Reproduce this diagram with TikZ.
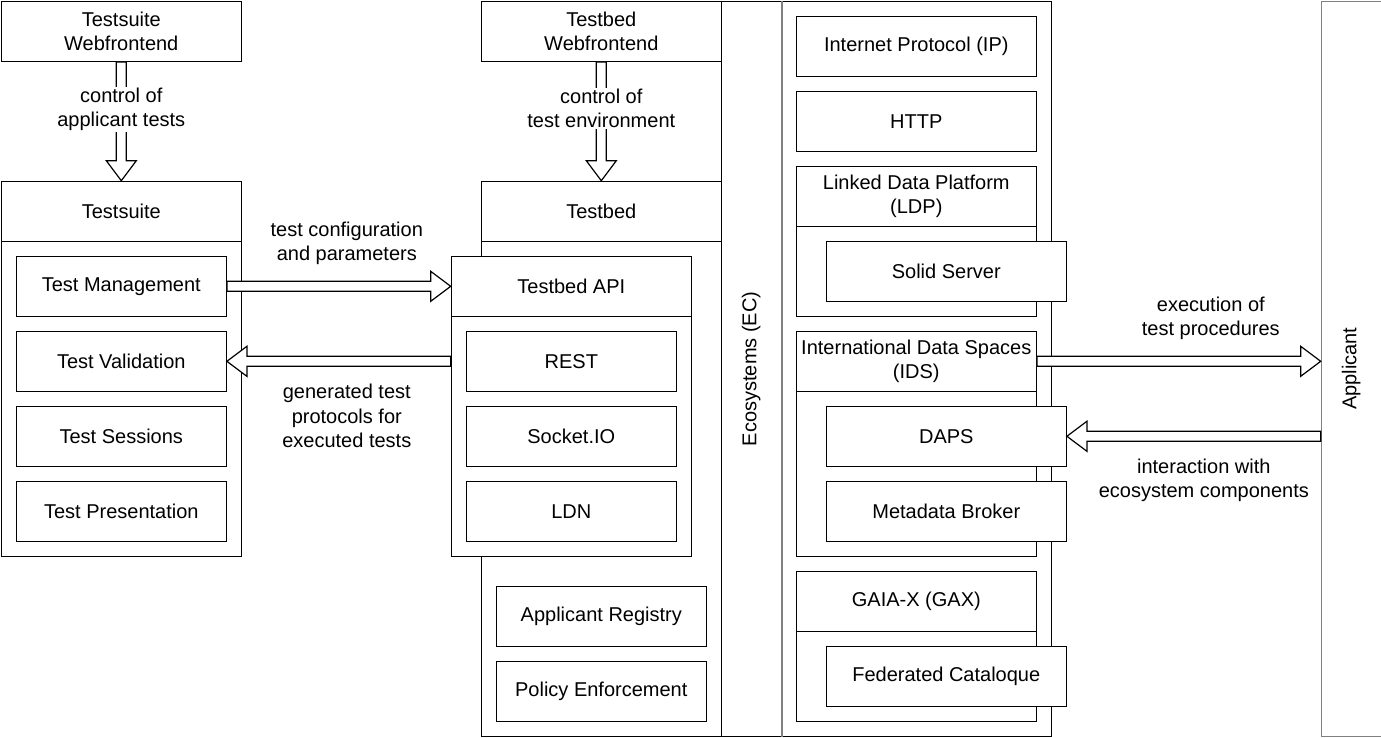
\documentclass[tikz,border=0pt]{standalone}
\usepackage{fontspec}
\setmainfont{Liberation Sans}
\usetikzlibrary{calc}
\newcommand\fsz{\fontsize{20}{24.5}\selectfont}
\tikzset{
  box/.style={draw=black, fill=white, line width=1.2pt, anchor=north west,
    inner sep=0pt, align=center, font=\fsz},
  graybox/.style={box, draw=black!50},
  lbl/.style={inner sep=1pt, align=center, font=\fsz},
  harrowline/.style={draw=black, fill=white, line width=1.2pt, line join=miter},
}
\newcommand\harrow[2]{%
  \coordinate (hA) at (#1); \coordinate (hB) at (#2);
  \coordinate (hC) at ($(hB)!20pt!(hA)$);
  \draw[harrowline] ($(hA)!5pt!90:(hB)$) -- ($(hC)!5pt!90:(hB)$) -- ($(hC)!15pt!90:(hB)$)
    -- (hB) -- ($(hC)!15pt!-90:(hB)$) -- ($(hC)!5pt!-90:(hB)$) -- ($(hA)!5pt!-90:(hB)$) -- cycle;
}
\begin{document}
\begin{tikzpicture}[x=1pt,y=-1pt]
\useasboundingbox (-0.7,-0.7) rectangle (1380.3,736.3);
% Testsuite side
\node[box, minimum width=240pt, minimum height=60pt] (tswf) at (0,0) {Testsuite\\Webfrontend};
\node[box, minimum width=240pt, minimum height=375pt] (tscont) at (0,180) {};
\node[box, minimum width=240pt, minimum height=60pt] (ts) at (0,180) {Testsuite};
\node[box, minimum width=210pt, minimum height=60pt] (tm) at (15,255) {Test Management};
\node[box, minimum width=210pt, minimum height=60pt] (tv) at (15,330) {Test Validation};
\node[box, minimum width=210pt, minimum height=60pt] (tss) at (15,405) {Test Sessions};
\node[box, minimum width=210pt, minimum height=60pt] (tp) at (15,480) {Test Presentation};
% Ecosystems
\node[box, minimum width=330pt, minimum height=735pt] (ec) at (720,0) {};
\node[box, minimum width=60pt, minimum height=735pt] (ectitle) at (720,0) {};
\draw[draw=black!50, line width=1.2pt] (ectitle.north east) -- (ectitle.south east);
\node[lbl, rotate=90] at (ectitle.center) {Ecosystems (EC)};
% Testbed side
\node[box, minimum width=240pt, minimum height=60pt] (tbwf) at (480,0) {Testbed\\Webfrontend};
\node[box, minimum width=240pt, minimum height=555pt] (tbcont) at (480,180) {};
\node[box, minimum width=240pt, minimum height=60pt] (tb) at (480,180) {Testbed};
\node[box, minimum width=240pt, minimum height=300pt] (apicont) at (450,255) {};
\node[box, minimum width=240pt, minimum height=60pt] (api) at (450,255) {Testbed API};
\node[box, minimum width=210pt, minimum height=60pt] (rest) at (465,330) {REST};
\node[box, minimum width=210pt, minimum height=60pt] (sio) at (465,405) {Socket.IO};
\node[box, minimum width=210pt, minimum height=60pt] (ldn) at (465,480) {LDN};
\node[box, minimum width=210pt, minimum height=60pt] (ar) at (495,585) {Applicant Registry};
\node[box, minimum width=210pt, minimum height=60pt] (pe) at (495,660) {Policy Enforcement};
% Ecosystem components
\node[box, minimum width=240pt, minimum height=60pt] (ip) at (795,15) {Internet Protocol (IP)};
\node[box, minimum width=240pt, minimum height=60pt] (http) at (795,90) {HTTP};
\node[box, minimum width=240pt, minimum height=150pt] (ldpcont) at (795,165) {};
\node[box, minimum width=240pt, minimum height=60pt] (ldp) at (795,165) {Linked Data Platform\\(LDP)};
\node[box, minimum width=240pt, minimum height=60pt] (solid) at (825,240) {Solid Server};
\node[box, minimum width=240pt, minimum height=225pt] (idscont) at (795,330) {};
\node[box, minimum width=240pt, minimum height=60pt] (ids) at (795,330) {International Data Spaces\\(IDS)};
\node[box, minimum width=240pt, minimum height=60pt] (daps) at (825,405) {DAPS};
\node[box, minimum width=240pt, minimum height=60pt] (mb) at (825,480) {Metadata Broker};
\node[box, minimum width=240pt, minimum height=150pt] (gaxcont) at (795,570) {};
\node[box, minimum width=240pt, minimum height=60pt] (gax) at (795,570) {GAIA-X (GAX)};
\node[box, minimum width=240pt, minimum height=60pt] (fc) at (825,645) {Federated Cataloque};
% Applicant
\node[graybox, minimum width=60pt, minimum height=735pt] (app) at (1320,0) {};
\node[lbl, rotate=90] at (app.center) {Applicant};
% Arrows
\harrow{tswf.south}{ts.north}
\node[lbl, fill=white] at ($(tswf.south)!0.4!(ts.north)$) {control of\\applicant tests};
\harrow{tbwf.south}{tb.north}
\node[lbl, fill=white] at ($(tbwf.south)!0.39!(tb.north)$) {control of\\test environment};
\harrow{tm.east}{api.west}
\node[lbl] at ($(tm.east)!0.5!(api.west)+(8,-43)$) {test configuration\\and parameters};
\harrow{tv.east -| apicont.west}{tv.east}
\node[lbl] at ($(tv.east)!0.5!(tv.east -| apicont.west)+(8,55)$) {generated test\\protocols for\\executed tests};
\harrow{ids.east}{ids.east -| app.west}
\node[lbl] at ($(ids.east)!0.5!(ids.east -| app.west)+(32,-43)$) {execution of\\test procedures};
\harrow{daps.east -| app.west}{daps.east}
\node[lbl] at ($(daps.east)!0.5!(daps.east -| app.west)+(10,44)$) {interaction with\\ecosystem components};
\end{tikzpicture}
\end{document}
